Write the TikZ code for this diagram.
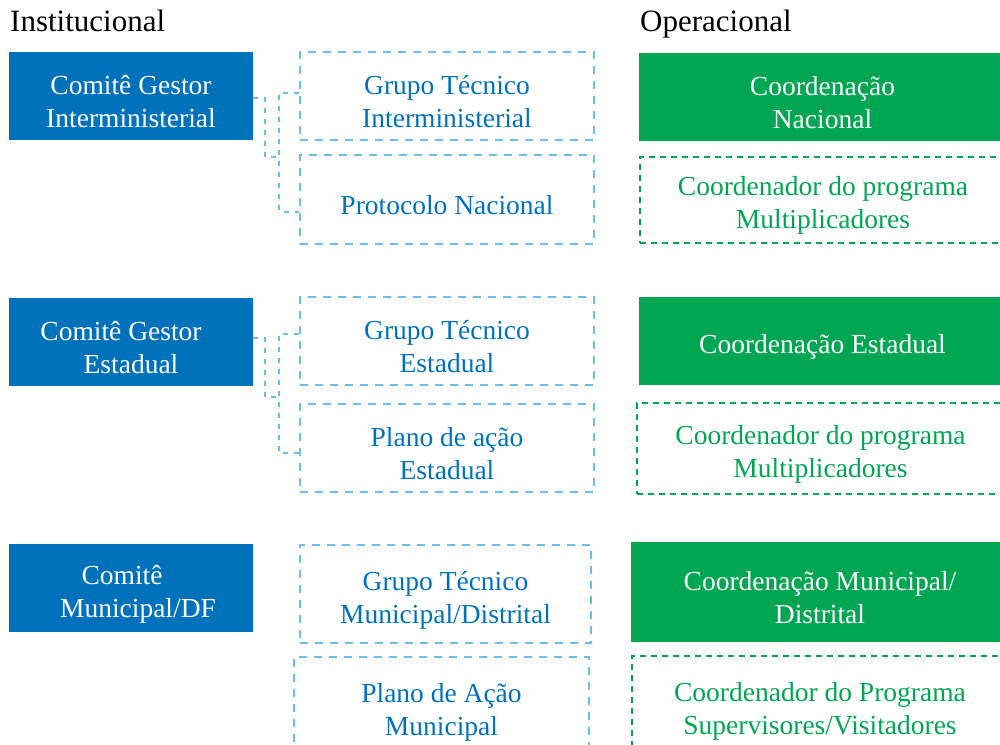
\documentclass[tikz,border=0pt]{standalone}
\usepackage{fontspec}
\setmainfont{Liberation Serif}
\usepackage{xcolor}
\usepackage{tikz}
\usetikzlibrary{positioning, calc}
\definecolor{instBlue}{RGB}{0, 114, 188}
\definecolor{lineBlue}{RGB}{110, 190, 235}
\definecolor{operGreen}{RGB}{0, 166, 81}
\newcommand{\topstrut}{\rule{0pt}{31pt}}
\tikzset{
    base/.style={
        font=\fontsize{27.5}{33}\selectfont,
        align=center,
        inner sep=0pt,
        rectangle
    },
    instbox/.style={
        base,
        fill=instBlue,
        text=white,
        minimum width=244pt,
        minimum height=88pt
    },
    instdash/.style={
        base,
        draw=lineBlue,
        line width=2pt,
        dash pattern=on 8pt off 7pt,
        text=instBlue,
        minimum width=294pt,
        minimum height=88pt
    },
    operbox/.style={
        base,
        fill=operGreen,
        text=white,
        minimum width=367pt,
        minimum height=88pt
    },
    operdash/.style={
        base,
        draw=operGreen,
        line width=2pt,
        dash pattern=on 6pt off 5pt,
        text=operGreen,
        minimum width=366pt,
        minimum height=86pt
    },
    title/.style={
        font=\fontsize{31}{36}\selectfont,
        anchor=base west,
        inner sep=0pt
    },
    link/.style={
        draw=lineBlue,
        line width=2pt,
        dash pattern=on 5pt off 6pt
    }
}
\begin{document}
\begin{tikzpicture}[x=1pt, y=-1pt]
  \useasboundingbox (0,0) rectangle (1000,744);
  \clip (0,0) rectangle (1000,744);

  \node[title] (inst) at (10,31) {Institucional};
  \node[title] (oper) at (640,31) {Operacional};

  % nacional
  \node[instbox] (cgN) at (131,96) {\topstrut Comitê Gestor\\Interministerial};
  \node[instdash] (gtN) at (447,96) {\topstrut Grupo Técnico\\Interministerial};
  \node[instdash, minimum height=89pt] (pnN) at (447,199.5) {\topstrut Protocolo Nacional};
  \node[operbox] (cnN) at (822.5,97) {\topstrut Coordenação\\Nacional};
  \node[operdash] (mpN) at (823,199.5) {\topstrut Coordenador do programa\\Multiplicadores};

  \coordinate (tipN) at (278,157);
  \draw[link] ([yshift=-2pt]cgN.east) -- ++(12,0) |- (tipN);
  \draw[link] ([yshift=3pt]gtN.west) -- ++(-20,0) |- ([yshift=-12pt]pnN.west);

  % estadual
  \node[instbox] (cgE) at (131,342) {\topstrut Comitê Gestor\hspace*{20pt}\\Estadual};
  \node[instdash] (gtE) at (447,341) {\topstrut Grupo Técnico\\Estadual};
  \node[instdash] (paE) at (447,448) {\topstrut Plano de ação\\Estadual};
  \node[operbox] (ceE) at (822.5,341) {\topstrut Coordenação Estadual};
  \node[operdash, minimum width=367pt, minimum height=91pt] (mpE) at (820.5,448.5) {\topstrut Coordenador do programa\\Multiplicadores};

  \coordinate (tipE) at (278,397);
  \draw[link] ([yshift=4pt]cgE.east) -- ++(12,0) |- (tipE);
  \draw[link] ([yshift=7pt]gtE.west) -- ++(-20,0) |- ([yshift=-5pt]paE.west);

  % municipal
  \node[instbox] (cgM) at (131,588) {\topstrut Comitê\hspace*{18pt}\\\hspace*{14pt}Municipal/DF};
  \node[instdash, minimum width=291pt, minimum height=98pt] (gtM) at (445.5,594) {\topstrut Grupo Técnico\\Municipal/Distrital};
  \node[instdash, minimum width=295pt, minimum height=98pt] (paM) at (441.5,706) {\topstrut Plano de Ação\\Municipal};
  \node[operbox, minimum width=378pt, minimum height=100pt] (cmM) at (820,592) {\topstrut Coordenação Municipal/\\Distrital};
  \node[operdash, minimum width=376pt, minimum height=98pt] (svM) at (820,705) {\topstrut Coordenador do Programa\\Supervisores/Visitadores};
\end{tikzpicture}
\end{document}
